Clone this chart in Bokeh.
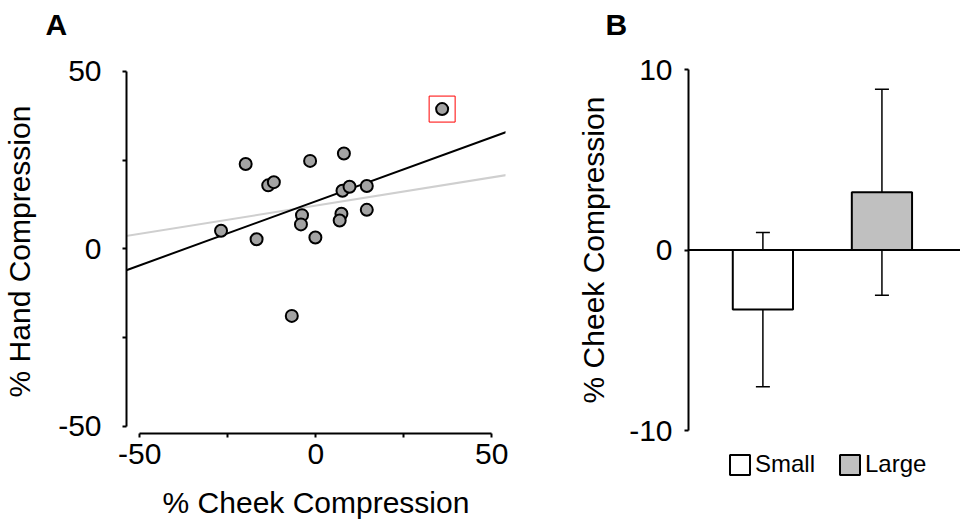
import numpy as np
from bokeh.plotting import figure
from bokeh.models import (ColumnDataSource, FixedTicker, Slope, Span, Whisker,
                          TeeHead, Legend, LegendItem, Range1d, Title,
                          CustomJSTickFormatter)
from bokeh.layouts import row, column
from bokeh.embed import file_html
from bokeh.resources import INLINE

# ---------------- data ----------------
# Panel A: per-participant compression (%)
cheek = [35.9, -19.9, -1.6, 8.0, -13.5, -11.9, 7.6, 9.6, 14.5, 14.5,
         -3.9, -4.2, 7.3, 6.8, -26.9, -16.8, -0.1, -6.8]
hand = [39.4, 23.9, 24.8, 26.9, 17.9, 18.8, 16.4, 17.5, 17.7, 11.0,
        9.5, 6.9, 9.9, 8.0, 5.1, 2.7, 3.2, -18.9]
outlier_idx = [0]
a_major_ticks = [-50, 0, 50]
a_minor_ticks = [-25, 25]

# Panel B: mean cheek compression by object size
sizes = ["Small", "Large"]
means = [-3.3, 3.2]
errors = [4.27, 5.7]
b_ticks = [-10, 0, 10]

FONT = "Liberation Sans"
bar_colors = ["white", "#c0c0c0"]
plain_fmt = CustomJSTickFormatter(code="return String(tick)")


def style_axis(ax):
    ax.axis_line_width = 2
    ax.axis_line_color = "black"
    ax.major_tick_line_width = 2
    ax.major_tick_line_color = "black"
    ax.minor_tick_line_width = 2
    ax.minor_tick_line_color = "black"
    ax.major_tick_in = 0
    ax.minor_tick_in = 0
    ax.major_tick_out = 4
    ax.minor_tick_out = 4
    ax.formatter = plain_fmt
    ax.major_label_text_font = FONT
    ax.major_label_text_font_size = "30px"
    ax.major_label_text_color = "black"
    ax.axis_label_text_font = FONT
    ax.axis_label_text_font_size = "30px"
    ax.axis_label_text_font_style = "normal"
    ax.axis_label_text_color = "black"


def add_panel_label(p, text, offset):
    # spacer panel next to the frame, then the bold panel letter above it
    p.add_layout(Title(text="\u00a0", text_font_size="11px"), "above")
    p.add_layout(Title(text=text, align="left", offset=offset,
                       text_font=FONT, text_font_size="30px",
                       text_font_style="bold", text_color="black"), "above")


TOP = 68

# ---------------- panel A ----------------
pA = figure(width=568, height=522, x_range=Range1d(-53.75, 53.9),
            y_range=Range1d(-52.05, 50.56), output_backend="svg",
            toolbar_location=None, min_border_left=121, min_border_right=63,
            min_border_top=TOP, min_border_bottom=89, title=None)
pA.outline_line_color = None
pA.grid.visible = False
add_panel_label(pA, "A", -81)

for ax in (pA.xaxis[0], pA.yaxis[0]):
    style_axis(ax)
    ax.ticker = FixedTicker(ticks=a_major_ticks, minor_ticks=a_minor_ticks)
    ax.bounds = (-50, 50)

pA.xaxis.axis_label = "% Cheek Compression"
pA.yaxis.axis_label = "% Hand Compression"
pA.xaxis.major_label_standoff = 6
pA.yaxis.major_label_standoff = 21
pA.xaxis.axis_label_standoff = 19
pA.yaxis.axis_label_standoff = 19

cx = np.array(cheek)
hy = np.array(hand)
m_all, b_all = np.polyfit(cx, hy, 1)
keep = [i for i in range(len(cheek)) if i not in outlier_idx]
m_in, b_in = np.polyfit(cx[keep], hy[keep], 1)

pA.add_layout(Slope(gradient=m_in, y_intercept=b_in, line_color="#cfcfcf",
                    line_width=2, level="underlay"))
pA.add_layout(Slope(gradient=m_all, y_intercept=b_all, line_color="black",
                    line_width=2, level="underlay"))

srcA = ColumnDataSource(dict(cheek=cheek, hand=hand))
pA.scatter(x="cheek", y="hand", source=srcA, size=12, fill_color="#a3a3a3",
           line_color="black", line_width=2)
pA.scatter(x=[cheek[i] for i in outlier_idx], y=[hand[i] for i in outlier_idx],
           marker="square", size=26, fill_color=None, line_color="red",
           line_width=1)

# ---------------- panel B ----------------
xs = list(range(len(sizes)))
srcB = ColumnDataSource(dict(
    x=xs, size=sizes, mean=means,
    upper=[m + e for m, e in zip(means, errors)],
    lower=[m - e for m, e in zip(means, errors)],
    color=bar_colors))

pB = figure(width=392, height=450, x_range=Range1d(-0.625, 1.66),
            y_range=Range1d(-10, 10), x_axis_type=None, output_backend="svg",
            toolbar_location=None, min_border_left=120, min_border_right=0,
            min_border_top=TOP, min_border_bottom=20, title=None)
pB.outline_line_color = None
pB.grid.visible = False
add_panel_label(pB, "B", -83)

ay = pB.yaxis[0]
style_axis(ay)
ay.ticker = FixedTicker(ticks=b_ticks, minor_ticks=[])
ay.major_label_standoff = 12
ay.axis_label = "% Cheek Compression"
ay.axis_label_standoff = 16

pB.vbar(x="x", top="mean", bottom=0, width=0.506, source=srcB,
        fill_color="color", line_color="black", line_width=2)
pB.add_layout(Span(location=0, dimension="width", line_color="black",
                   line_width=2))
pB.add_layout(Whisker(source=srcB, base="x", upper="upper", lower="lower",
                      line_width=1.5, line_color="black",
                      upper_head=TeeHead(size=14, line_width=1.5),
                      lower_head=TeeHead(size=14, line_width=1.5)))

# legend strip under panel B (uses a hidden copy of the bars for its swatches)
pL = figure(width=392, height=72, x_range=Range1d(-0.625, 1.66),
            y_range=Range1d(100, 101), x_axis_type=None, y_axis_type=None,
            output_backend="svg", toolbar_location=None,
            min_border_left=120, min_border_right=0, min_border_top=0,
            min_border_bottom=0, title=None)
pL.outline_line_color = None
leg_bars = pL.vbar(x="x", top="mean", bottom=0, width=0.506, source=srcB,
                   fill_color="color", line_color="black", line_width=2)
leg_bars.visible = False
legend = Legend(items=[LegendItem(label=sizes[i], renderers=[leg_bars], index=i)
                       for i in range(len(sizes))],
                orientation="horizontal", location=(39, 44),
                border_line_color=None, background_fill_alpha=0,
                glyph_width=25, glyph_height=25, label_standoff=3,
                spacing=22, padding=0, margin=0,
                inactive_fill_alpha=0,
                label_text_font=FONT, label_text_font_size="24px",
                label_text_color="black")
pL.add_layout(legend)

layout = row(pA, column(pB, pL))
open("out.html", "w").write(file_html(layout, INLINE))
